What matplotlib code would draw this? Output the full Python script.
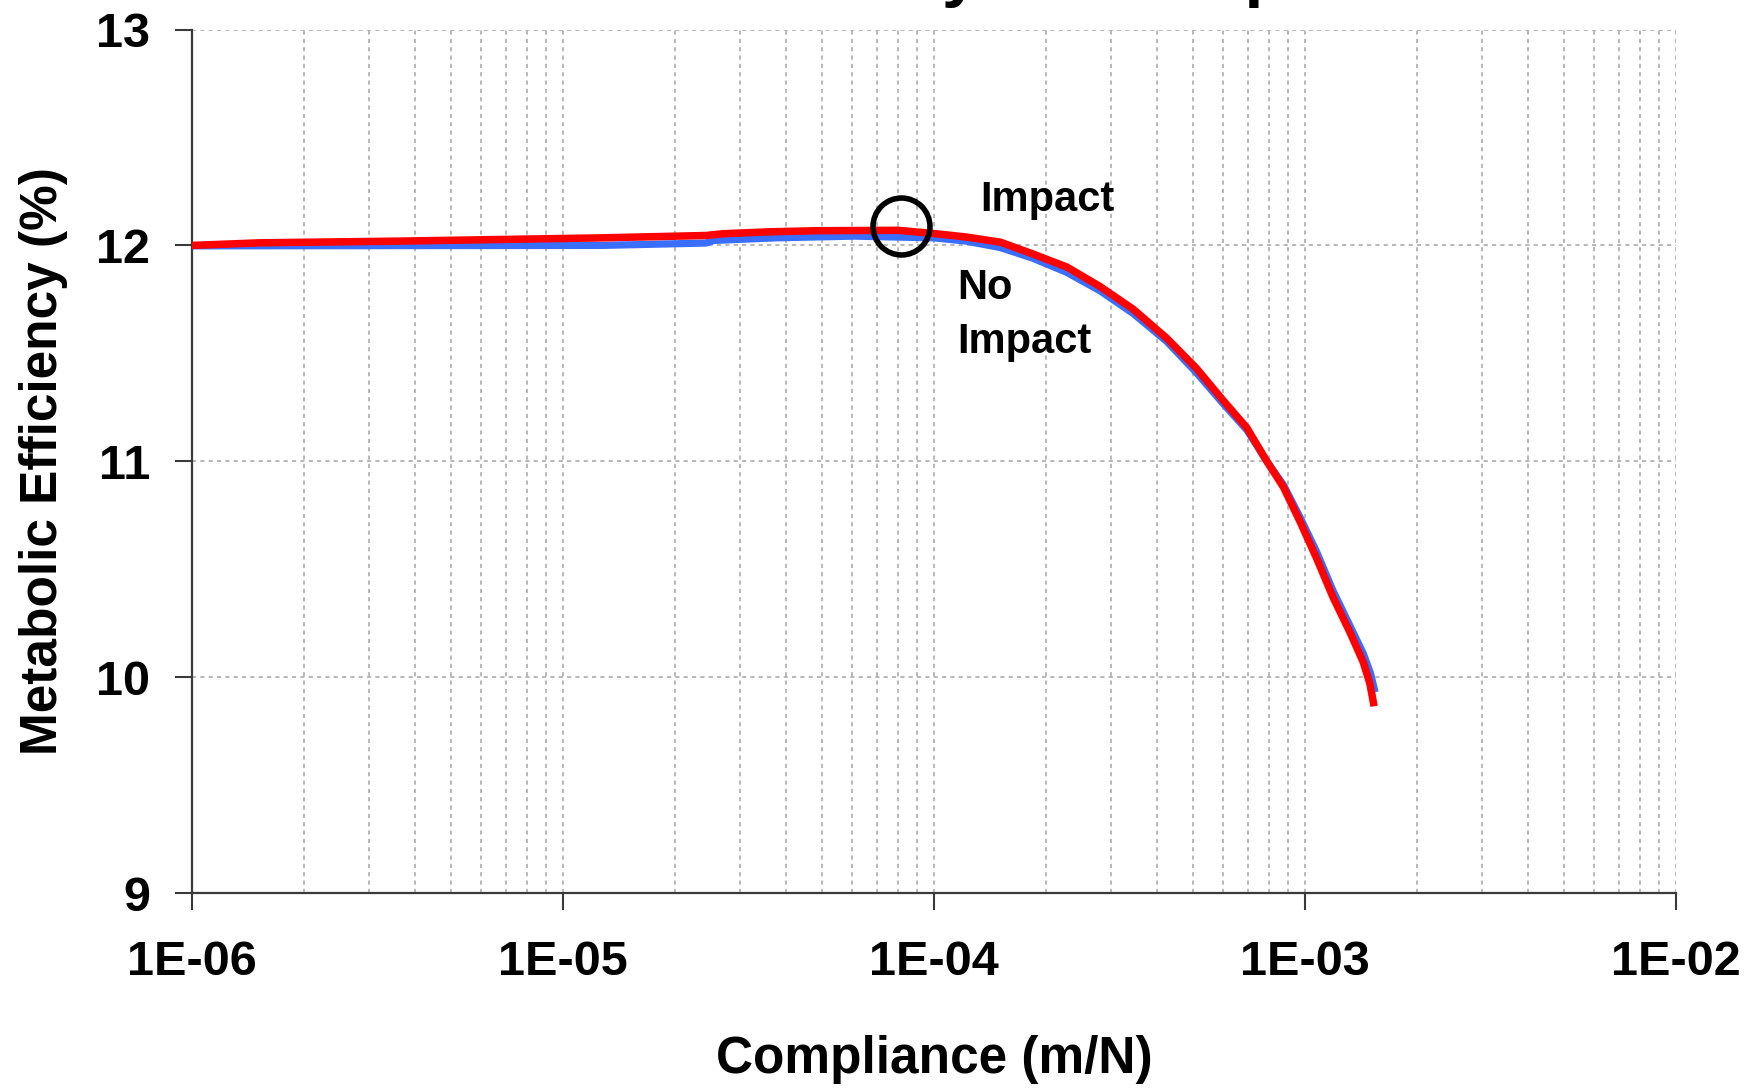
import matplotlib
matplotlib.use("Agg")
import matplotlib.pyplot as plt
from matplotlib.ticker import LogLocator, FixedLocator, FixedFormatter, NullFormatter

plt.rcParams['font.family'] = ['Liberation Sans', 'DejaVu Sans']
plt.rcParams['font.weight'] = 'bold'

# ---- data ----
title = "Metabolic Efficiency vs Compliance"
x_label = "Compliance (m/N)"
y_label = "Metabolic Efficiency (%)"

x_ticks = [1e-6, 1e-5, 1e-4, 1e-3, 1e-2]
x_tick_labels = ["1E-06", "1E-05", "1E-04", "1E-03", "1E-02"]
y_ticks = [9, 10, 11, 12, 13]

impact_x = [1.0e-6, 1.52e-6, 3.64e-6, 1.27e-5, 2.43e-5, 2.7e-5, 3.6e-5, 4.8e-5, 8.0e-5,
            1.0e-4, 1.22e-4, 1.51e-4, 1.85e-4, 2.28e-4, 2.8e-4, 3.44e-4, 4.24e-4,
            5.1e-4, 6.03e-4, 6.97e-4, 7.89e-4, 8.75e-4, 9.7e-4, 1.075e-3, 1.19e-3,
            1.32e-3, 1.435e-3, 1.496e-3, 1.535e-3]
impact_y = [12.000, 12.012, 12.020, 12.035, 12.046, 12.054, 12.063, 12.068, 12.070,
            12.055, 12.039, 12.015, 11.960, 11.900, 11.810, 11.705, 11.570,
            11.430, 11.280, 11.155, 11.000, 10.880, 10.720, 10.550, 10.370,
            10.210, 10.070, 9.970, 9.865]

noimpact_x = [1.0e-6, 1.27e-5, 2.43e-5, 2.55e-5, 3.73e-5, 6.1e-5, 1.0e-4, 1.22e-4,
              1.51e-4, 1.85e-4, 2.28e-4, 2.8e-4, 3.44e-4, 4.24e-4, 5.1e-4, 6.03e-4,
              6.97e-4, 7.89e-4, 8.75e-4, 9.7e-4, 1.075e-3, 1.19e-3, 1.32e-3,
              1.435e-3, 1.5e-3, 1.545e-3]
noimpact_y = [11.998, 12.000, 12.011, 12.023, 12.035, 12.043, 12.035, 12.020,
              11.990, 11.940, 11.875, 11.790, 11.685, 11.555, 11.410, 11.265,
              11.145, 11.000, 10.890, 10.740, 10.580, 10.400, 10.240,
              10.110, 10.020, 9.930]

optimum_x = [8.15e-5]
optimum_y = [12.088]

# ---- figure ----
fig = plt.figure(figsize=(17.53, 10.90), dpi=100)
ax = fig.add_axes([0.1095, 0.1807, 0.8466, 0.7922])

ax.plot(noimpact_x, noimpact_y, color='#3a6eff', lw=5.2, solid_capstyle='butt', zorder=3)
ax.plot(impact_x, impact_y, color='#ff0000', lw=5.4, solid_capstyle='butt', zorder=4)
ax.plot(optimum_x, optimum_y, 'o', ms=41, mfc='none', mec='black', mew=4.0, zorder=5)

ax.set_xscale('log')
ax.set_xlim(1e-6, 1e-2)
ax.set_ylim(9, 13)

ax.xaxis.set_major_locator(FixedLocator(x_ticks))
ax.xaxis.set_major_formatter(FixedFormatter(x_tick_labels))
ax.xaxis.set_minor_locator(LogLocator(base=10, subs=[2, 3, 4, 5, 6, 7, 8, 9], numticks=50))
ax.xaxis.set_minor_formatter(NullFormatter())
ax.set_yticks(y_ticks)
ax.set_yticklabels([str(v) for v in y_ticks])

grid_kw = dict(color='#acacac', linewidth=1.2, linestyle=(0, (2.5, 2.5)))
ax.grid(True, which='major', axis='both', **grid_kw)
ax.grid(True, which='minor', axis='x', **grid_kw)
ax.set_axisbelow(True)

for s in ['top', 'right']:
    ax.spines[s].set_visible(False)
for s in ['left', 'bottom']:
    ax.spines[s].set_color('#3a3a3a')
    ax.spines[s].set_linewidth(1.6)

ax.tick_params(axis='both', which='major', direction='out', length=12, width=1.5,
               color='#3a3a3a', labelsize=35)
ax.tick_params(axis='x', which='major', pad=22)
ax.tick_params(axis='y', which='major', pad=18)
ax.tick_params(axis='x', which='minor', length=0)
for lab in ax.get_xticklabels() + ax.get_yticklabels():
    lab.set_fontweight('bold')

ax.set_xlabel(x_label, fontsize=37, fontweight='bold')
ax.set_ylabel(y_label, fontsize=37, fontweight='bold')
ax.xaxis.set_label_coords(0.5, -0.164)
ax.yaxis.set_label_coords(-0.0836, 0.5)

ax.text(1.33e-4, 12.158, "Impact", fontsize=30, fontweight='bold', ha='left', va='baseline')
ax.text(1.153e-4, 11.754, "No", fontsize=30, fontweight='bold', ha='left', va='baseline')
ax.text(1.153e-4, 11.50, "Impact", fontsize=30, fontweight='bold', ha='left', va='baseline')

fig.text(903 / 1753, 1096 / 1090, title, fontsize=49, fontweight='bold',
         ha='center', va='baseline')

fig.savefig("out.png", dpi=100)
